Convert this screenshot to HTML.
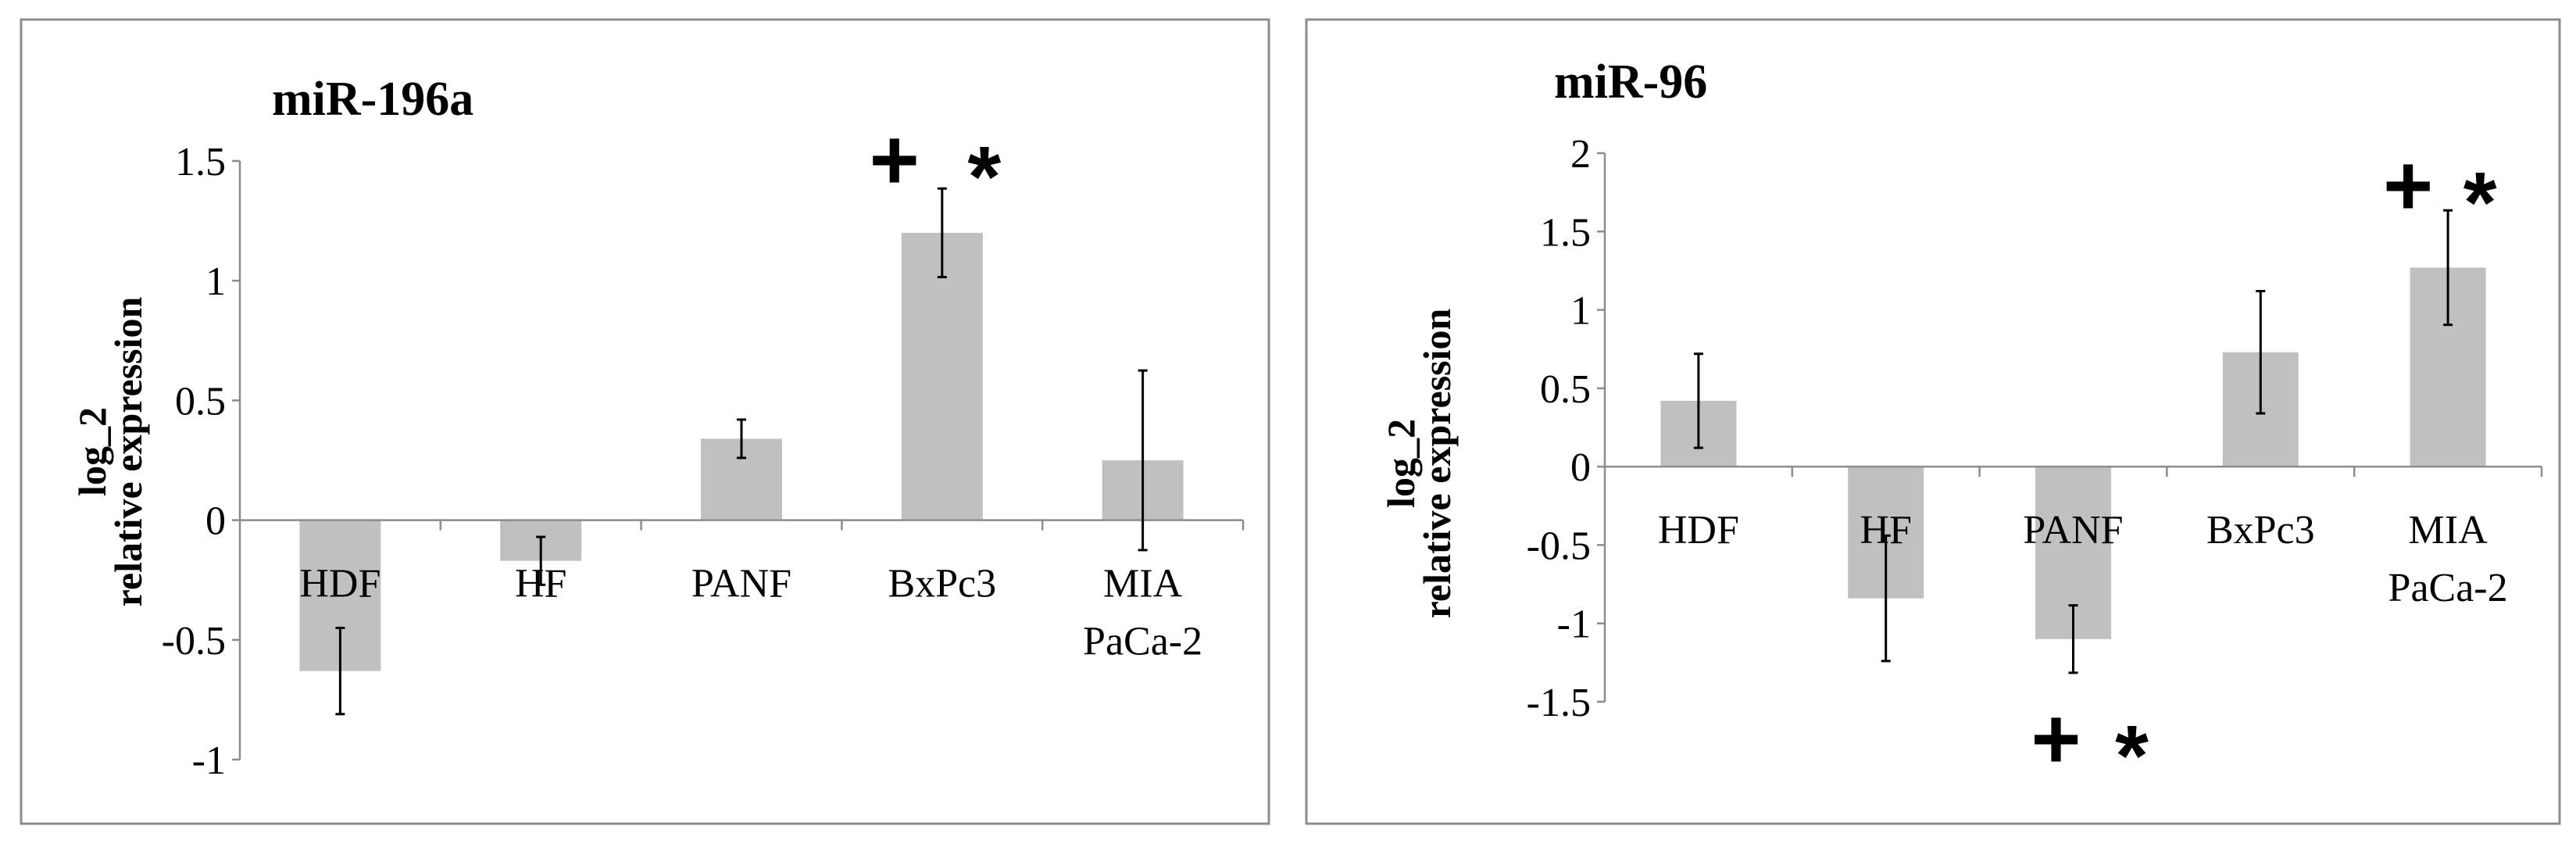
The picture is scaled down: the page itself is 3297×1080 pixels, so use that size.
<!DOCTYPE html>
<html><head><meta charset="utf-8"><style>
html,body{margin:0;padding:0;background:#fff;}
svg{display:block;}
text{font-family:"Liberation Serif",serif;}
</style></head>
<body>
<svg id="fig" width="3297" height="1080" viewBox="0 0 3297 1080" xmlns="http://www.w3.org/2000/svg">
<rect x="27" y="25" width="1597" height="1029" fill="#fff" stroke="#8c8c8c" stroke-width="3"/>
<rect x="1672" y="25" width="1604" height="1029" fill="#fff" stroke="#8c8c8c" stroke-width="3"/>
<g id="left"></g>
<g id="right"></g>
</svg>
<script>
const categories = ["HDF","HF","PANF","BxPc3","MIA PaCa-2"];
const valuesA = [-0.63, -0.17, 0.34, 1.2, 0.25];
const errorsA = [0.18, 0.1, 0.08, 0.185, 0.375];
const ticksA = [1.5, 1, 0.5, 0, -0.5, -1];
const valuesB = [0.42, -0.84, -1.1, 0.73, 1.27];
const errorsB = [0.3, 0.4, 0.215, 0.39, 0.365];
const ticksB = [2, 1.5, 1, 0.5, 0, -0.5, -1, -1.5];

const NS = "http://www.w3.org/2000/svg";
function mk(parent, tag, attrs, txt) {
  const e = document.createElementNS(NS, tag);
  for (const k in attrs) e.setAttribute(k, attrs[k]);
  if (txt !== undefined) e.textContent = txt;
  parent.appendChild(e);
  return e;
}

function drawChart(g, cfg, values, errors, ticks) {
  const yMax = ticks[0], yMin = ticks[ticks.length - 1];
  const y = v => cfg.yTop + (yMax - v) / (yMax - yMin) * (cfg.yBot - cfg.yTop);
  const cw = (cfg.xEnd - cfg.x0) / categories.length;
  const x = i => cfg.x0 + cw * (i + 0.5);
  const y0 = y(0);

  const t = mk(g, "text", {x: cfg.titleX, y: cfg.titleY, "font-size": 62, "font-weight": "bold", fill: "#000"}, cfg.title);
  
  

  const yt = mk(g, "text", {transform: `translate(${cfg.ytX},${cfg.ytY}) rotate(-90)`, "text-anchor": "middle", "font-size": 50, "font-weight": "bold", fill: "#000"});
  
  
  mk(yt, "tspan", {x: 0, dy: 0}, "log_2");
  mk(yt, "tspan", {x: 0, dy: 46}, "relative expression");

  values.forEach((v, i) => {
    const top = Math.min(y(v), y0), h = Math.abs(y(v) - y0);
    const r = mk(g, "rect", {x: x(i) - cfg.bw / 2, y: top, width: cfg.bw, height: h, fill: "#c0c0c0"});
    
    
  });

  const ya = mk(g, "line", {x1: cfg.x0, y1: y(yMax), x2: cfg.x0, y2: y(yMin), stroke: "#8c8c8c", "stroke-width": 2.5});
  
  
  ticks.forEach(tv => {
    const tk = mk(g, "line", {x1: cfg.x0 - 10, y1: y(tv), x2: cfg.x0, y2: y(tv), stroke: "#8c8c8c", "stroke-width": 2.5});
    
    
    const tl = mk(g, "text", {x: cfg.x0 - 18, y: y(tv) + 18, "text-anchor": "end", "font-size": 52, fill: "#000"}, String(tv));
    
    
  });

  const xa = mk(g, "line", {x1: cfg.x0, y1: y0, x2: cfg.xEnd, y2: y0, stroke: "#8c8c8c", "stroke-width": 2.5});
  
  
  for (let i = 1; i <= categories.length; i++) {
    const tk = mk(g, "line", {x1: cfg.x0 + cw * i, y1: y0, x2: cfg.x0 + cw * i, y2: y0 + 13, stroke: "#8c8c8c", "stroke-width": 2.5});
    
    
  }

  values.forEach((v, i) => {
    const eg = mk(g, "g", {stroke: "#000", "stroke-width": 3});
    
    
    const hi = y(v + errors[i]), lo = y(v - errors[i]);
    mk(eg, "line", {x1: x(i), y1: hi, x2: x(i), y2: lo});
    mk(eg, "line", {x1: x(i) - 6, y1: hi, x2: x(i) + 6, y2: hi});
    mk(eg, "line", {x1: x(i) - 6, y1: lo, x2: x(i) + 6, y2: lo});
  });

  categories.forEach((c, i) => {
    const parts = c === "MIA PaCa-2" ? ["MIA", "PaCa-2"] : [c];
    const lt = mk(g, "text", {x: x(i), y: y0 + 98, "text-anchor": "middle", "font-size": 52, fill: "#000"});
    
    
    parts.forEach((p, k) => mk(lt, "tspan", {x: x(i), dy: k ? 74 : 0}, p));
  });

  cfg.marks.forEach(m => {
    const mg = mk(g, "g", {});
    
    
    const px = x(m.i) + m.dx1, sx = x(m.i) + m.dx2;
    mk(mg, "text", {x: px, y: m.cy + 36, "text-anchor": "middle", "font-size": 110, "font-weight": "bold", fill: "#000", style: "font-family:'Liberation Sans',sans-serif"}, "+");
    mk(mg, "text", {x: sx, y: m.cy + 58, "text-anchor": "middle", "font-size": 110, "font-weight": "bold", fill: "#000", style: "font-family:'Liberation Sans',sans-serif"}, "*");
  });
}

drawChart(document.getElementById("left"),
  {title: "miR-196a", titleX: 348, titleY: 147, ytX: 135, ytY: 578,
   x0: 307, xEnd: 1591, yTop: 206, yBot: 972, bw: 104,
   marks: [{i: 3, dx1: -61, dx2: 54, cy: 206}]},
  valuesA, errorsA, ticksA);

drawChart(document.getElementById("right"),
  {title: "miR-96", titleX: 1989, titleY: 125, ytX: 1810, ytY: 593,
   x0: 2054, xEnd: 3253, yTop: 196, yBot: 898, bw: 97,
   marks: [{i: 4, dx1: -51, dx2: 41, cy: 239}, {i: 2, dx1: -22, dx2: 75, cy: 947}]},
  valuesB, errorsB, ticksB);
</script>
</body></html>
